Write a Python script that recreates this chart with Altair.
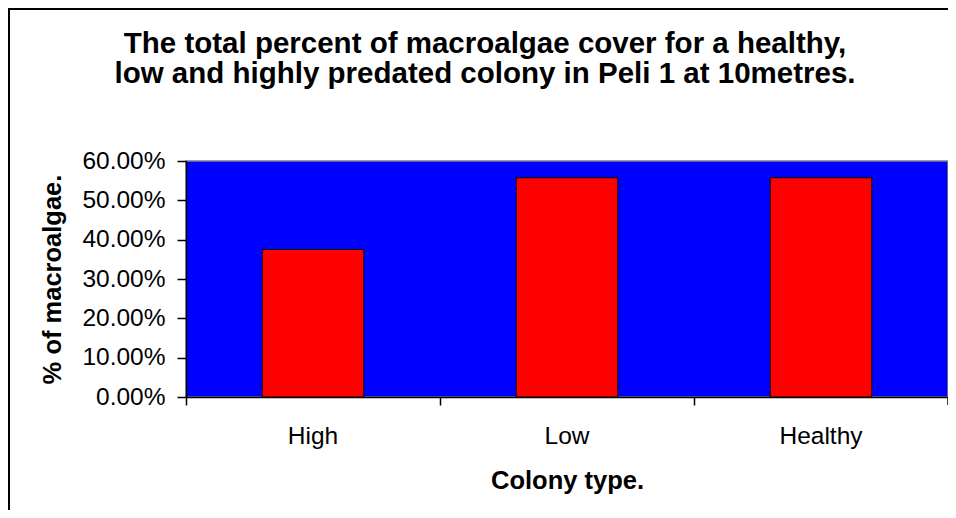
import altair as alt
import pandas as pd

categories = ["High", "Low", "Healthy"]
values = [0.375, 0.5575, 0.5575]
y_ticks = [0.0, 0.1, 0.2, 0.3, 0.4, 0.5, 0.6]
title_lines = [
    "The total percent of macroalgae cover for a healthy,",
    "low and highly predated colony in Peli 1 at 10metres.",
]

FONT = "Liberation Sans"
W, H = 762, 236

df = pd.DataFrame({"colony": categories, "value": values})

x_enc = alt.X(
    "colony:N",
    sort=categories,
    scale=alt.Scale(paddingInner=0, paddingOuter=0),
    axis=alt.Axis(
        title="Colony type.",
        labelAngle=0,
        bandPosition=0,
        ticks=True,
        tickSize=8,
        tickColor="black",
        tickWidth=1.5,
        domainColor="black",
        domainWidth=1.5,
        labelPadding=19,
        labelFontSize=24.5,
        labelFont=FONT,
        labelColor="black",
        labelBaseline="top",
        titleFontSize=25.5,
        titleFont=FONT,
        titleFontWeight="bold",
        titleColor="black",
        titlePadding=21,
        labelAlign="center",
    ),
)

bars = alt.Chart(df).mark_bar(
    color="#FF0000", stroke="black", strokeWidth=1, width=alt.RelativeBandSize(0.4)
).encode(
    x=x_enc,
    y=alt.Y(
        "value:Q",
        scale=alt.Scale(domain=[0, 0.6], nice=False),
        axis=alt.Axis(
            title="% of macroalgae.",
            values=y_ticks,
            format=".2%",
            grid=False,
            tickSize=9,
            tickColor="black",
            tickWidth=1.5,
            domainColor="black",
            domainWidth=1.5,
            labelPadding=12,
            labelFontSize=24.5,
            labelFont=FONT,
            labelColor="black",
            titleFontSize=25.5,
            titleFont=FONT,
            titleFontWeight="bold",
            titleColor="black",
            titlePadding=16,
        ),
    ),
)

deco = pd.DataFrame({"k": [0]})
end_tick = alt.Chart(deco).mark_rule(color="black", strokeWidth=1.5).encode(
    x=alt.value(W), y=alt.value(H), y2=alt.value(H + 8)
)
frame_left = alt.Chart(deco).mark_rule(color="black", strokeWidth=2).encode(
    x=alt.value(-177), y=alt.value(-153), y2=alt.value(H + 113)
)
frame_top = alt.Chart(deco).mark_rule(color="black", strokeWidth=2).encode(
    x=alt.value(-178), x2=alt.value(W), y=alt.value(-152)
)
title_text = alt.Chart(deco).mark_text(
    text=title_lines,
    font=FONT,
    fontSize=29.5,
    fontWeight="bold",
    color="black",
    lineHeight=30,
    align="center",
    baseline="alphabetic",
).encode(x=alt.value(299), y=alt.value(-108))

chart = alt.layer(bars, end_tick, frame_left, frame_top, title_text).properties(
    width=W,
    height=H,
    background="white",
    autosize=alt.AutoSizeParams(type="none"),
    padding={"left": 178, "top": 153, "right": 0, "bottom": 113},
).configure_view(
    fill="#0000FF", stroke="#808080", strokeWidth=1.5
)

chart.save("out.html", embed_options={"renderer": "svg", "actions": False})
